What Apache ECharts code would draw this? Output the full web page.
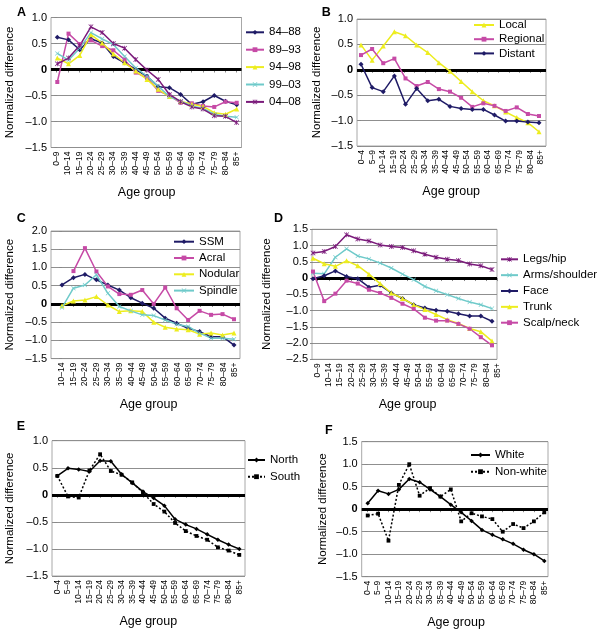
<!DOCTYPE html>
<html>
<head>
<meta charset="utf-8">
<script src="https://cdn.jsdelivr.net/npm/echarts@6.0.0/dist/echarts.min.js"></script>
<style>
  html, body { margin: 0; background: #fff; }
  #chart { width: 600px; height: 632px; }
</style>
</head>
<body>
<div id="chart"></div>
<script>
// age group labels
const ages9 = ['0–9','10–14','15–19','20–24','25–29','30–34','35–39','40–44','45–49','50–54','55–59','60–64','65–69','70–74','75–79','80–84','85+'];
const ages5 = ['0–4','5–9','10–14','15–19','20–24','25–29','30–34','35–39','40–44','45–49','50–54','55–59','60–64','65–69','70–74','75–79','80–84','85+'];
const ages10 = ['10–14','15–19','20–24','25–29','30–34','35–39','40–44','45–49','50–54','55–59','60–64','65–69','70–74','75–79','80–84','85+'];

// A: diagnosis period
const a8488 = [0.62,0.57,0.38,0.59,0.51,0.25,0.13,0.00,-0.13,-0.33,-0.35,-0.48,-0.67,-0.62,-0.50,-0.61,-0.68];
const a8993 = [-0.24,0.69,0.49,0.56,0.45,0.37,0.19,-0.06,-0.16,-0.41,-0.50,-0.64,-0.65,-0.70,-0.72,-0.62,-0.64];
const a9498 = [0.22,0.11,0.27,0.67,0.51,0.30,0.13,-0.03,-0.19,-0.38,-0.52,-0.61,-0.67,-0.71,-0.83,-0.86,-0.76];
const a9903 = [0.31,0.18,0.41,0.71,0.59,0.48,0.25,0.03,-0.13,-0.32,-0.52,-0.61,-0.70,-0.75,-0.86,-0.90,-0.92];
const a0408 = [0.11,0.22,0.46,0.82,0.71,0.50,0.41,0.19,-0.01,-0.19,-0.48,-0.62,-0.72,-0.76,-0.89,-0.90,-1.02];

// B: stage (17 points under 18 labels)
const bLocal = [0.49,0.19,0.47,0.75,0.67,0.49,0.34,0.14,-0.03,-0.23,-0.43,-0.61,-0.71,-0.83,-0.94,-1.04,-1.22];
const bRegional = [0.29,0.41,0.13,0.22,-0.17,-0.32,-0.24,-0.38,-0.43,-0.55,-0.73,-0.66,-0.71,-0.81,-0.74,-0.87,-0.91];
const bDistant = [0.11,-0.35,-0.43,-0.12,-0.68,-0.37,-0.61,-0.58,-0.72,-0.76,-0.78,-0.78,-0.89,-1.01,-1.01,-1.03,-1.04];

// C: histology
const cSSM = [0.52,0.72,0.81,0.66,0.52,0.38,0.17,0.02,-0.12,-0.39,-0.53,-0.67,-0.76,-0.90,-0.90,-1.13];
const cAcral = [null,0.90,1.53,0.89,0.48,0.27,0.25,0.38,0.00,0.45,-0.12,-0.44,-0.19,-0.30,-0.28,-0.42];
const cNodular = [-0.05,0.08,0.11,0.20,-0.03,-0.21,-0.19,-0.21,-0.50,-0.64,-0.69,-0.71,-0.83,-0.80,-0.85,-0.80];
const cSpindle = [-0.10,0.43,0.52,0.80,0.29,-0.07,-0.19,-0.30,-0.32,-0.44,-0.56,-0.62,-0.80,-0.94,-0.94,-0.97];

// D: body site
const dLegs = [0.77,0.82,0.97,1.33,1.20,1.14,1.02,0.97,0.94,0.84,0.73,0.64,0.58,0.54,0.43,0.38,0.26];
const dArms = [0.15,0.13,0.64,0.90,0.68,0.59,0.46,0.31,0.12,-0.05,-0.26,-0.39,-0.51,-0.63,-0.74,-0.82,-0.94];
const dFace = [-0.02,0.07,0.22,0.05,-0.02,-0.28,-0.22,-0.46,-0.63,-0.82,-0.92,-0.99,-1.02,-1.10,-1.17,-1.17,-1.33];
const dTrunk = [0.61,0.44,0.36,0.53,0.38,0.12,-0.17,-0.46,-0.63,-0.82,-0.97,-1.12,-1.28,-1.40,-1.55,-1.65,-1.94];
const dScalp = [0.20,-0.71,-0.48,-0.08,-0.17,-0.36,-0.46,-0.61,-0.79,-0.95,-1.22,-1.31,-1.31,-1.41,-1.56,-1.82,-2.07];

// E: region
const eNorth = [0.35,0.49,0.47,0.43,0.63,0.62,0.38,0.22,0.06,-0.06,-0.20,-0.45,-0.55,-0.63,-0.73,-0.83,-0.92,-1.00];
const eSouth = [0.35,-0.03,-0.05,0.45,0.75,0.44,0.37,0.23,0.04,-0.17,-0.31,-0.52,-0.67,-0.76,-0.83,-0.97,-1.03,-1.11];

// F: race
const fWhite = [0.13,0.41,0.34,0.44,0.67,0.60,0.44,0.28,0.10,-0.07,-0.26,-0.46,-0.57,-0.67,-0.77,-0.90,-1.00,-1.15];
const fNonwhite = [-0.14,-0.10,-0.70,0.54,1.00,0.30,0.47,0.28,0.44,-0.27,-0.09,-0.16,-0.22,-0.50,-0.33,-0.42,-0.27,-0.07];

const FONT = '"Liberation Sans", Arial, sans-serif';
const C = { navy: '#1f1b66', magenta: '#c64aa6', yellow: '#eded1f', cyan: '#6fcaca', purple: '#7b1b7b', black: '#000' };
const SYM = {
  diamond: ['diamond', 5], square: ['rect', 4], triangle: ['triangle', 5],
  cross: ['path://M1,0L5,4L9,0L10,1L6,5L10,9L9,10L5,6L1,10L0,9L4,5L0,1Z', 4.5],
  star: ['path://M1,0L5,4L9,0L10,1L6,5L10,9L9,10L5,6L1,10L0,9L4,5L0,1Z M4.3,0H5.7V10H4.3Z', 5],
  sdiamond: ['diamond', 4.5], ssquare: ['rect', 3.8]
};

// frame = plot box [left, top, width, height]; pts / labs = x of first and last point / label
const panels = [
  { tag: 'A', frame: [51, 17.5, 190.5, 130], pts: [57.3, 236.7], labs: [56.7, 236.7], y: [-1.5, 1], cats: ages9,
    letter: [17, 5.8], yNameX: 10, legend: { left: 245, top: 25.3, gap: 3.4, w: 18 },
    series: [['84–88', a8488, 'navy', 'diamond'], ['89–93', a8993, 'magenta', 'square'], ['94–98', a9498, 'yellow', 'triangle'],
             ['99–03', a9903, 'cyan', 'cross'], ['04–08', a0408, 'purple', 'star']] },
  { tag: 'B', frame: [357, 19, 189, 127], pts: [361, 539], labs: [361.7, 540.7], y: [-1.5, 1], cats: ages5,
    letter: [321.7, 5.8], yNameX: 316.7, legend: { left: 473, top: 18, gap: 0.2, w: 20 },
    series: [['Local', bLocal, 'yellow', 'triangle'], ['Regional', bRegional, 'magenta', 'square'], ['Distant', bDistant, 'navy', 'diamond']] },
  { tag: 'C', frame: [51, 231, 189, 127.6], pts: [62, 234], labs: [62, 235], y: [-1.5, 2], cats: ages10,
    letter: [16.7, 212.5], yNameX: 10, legend: { left: 173, top: 234.7, gap: 2.3, w: 20 },
    series: [['SSM', cSSM, 'navy', 'diamond'], ['Acral', cAcral, 'magenta', 'square'], ['Nodular', cNodular, 'yellow', 'triangle'], ['Spindle', cSpindle, 'cyan', 'cross']] },
  { tag: 'D', frame: [312, 229.3, 185, 130], pts: [313, 492], labs: [317.5, 497.5], y: [-2.5, 1.5], cats: ages9,
    letter: [274, 212.5], yNameX: 266.7, legend: { left: 500, top: 252.3, gap: 1.85, w: 17 },
    series: [['Legs/hip', dLegs, 'purple', 'star'], ['Arms/shoulder', dArms, 'cyan', 'cross'], ['Face', dFace, 'navy', 'diamond'],
             ['Trunk', dTrunk, 'yellow', 'triangle'], ['Scalp/neck', dScalp, 'magenta', 'square']] },
  { tag: 'E', frame: [52, 440.7, 193, 135.3], pts: [57.3, 239.3], labs: [57.3, 239.3], y: [-1.5, 1], cats: ages5,
    letter: [16.7, 420.5], yNameX: 10, legend: { left: 247, top: 453, gap: 2.7, w: 17 },
    series: [['North', eNorth, 'black', 'sdiamond'], ['South', eSouth, 'black', 'ssquare', [2, 2]]] },
  { tag: 'F', frame: [361.7, 441.7, 186.3, 135], pts: [367.7, 544.3], labs: [367.7, 544.3], y: [-1.5, 1.5], cats: ages5,
    letter: [325, 424.2], yNameX: 323, legend: { left: 470, top: 448, gap: 2.7, w: 19 },
    series: [['White', fWhite, 'black', 'sdiamond'], ['Non-white', fNonwhite, 'black', 'ssquare', [2, 2]]] }
];

const option = { animation: false, backgroundColor: '#fff', textStyle: { fontFamily: FONT },
  title: [], grid: [], xAxis: [], yAxis: [], legend: [], series: [] };

panels.forEach((p, k) => {
  const [L, T, W, H] = p.frame;
  const n = p.series[0][1].length;
  const s = (p.pts[1] - p.pts[0]) / (n - 1);
  const m = p.cats.length;
  const ls = (p.labs[1] - p.labs[0]) / (m - 1);
  const g = 2 * k;

  option.title.push({ text: p.tag, left: p.letter[0], top: p.letter[1], padding: 0,
    textStyle: { fontSize: 12.5, fontWeight: 'bold', color: '#000', fontFamily: FONT } });

  option.grid.push({ left: L, top: T, width: W, height: H, show: true, borderColor: '#a8a8a8', borderWidth: 1 });
  option.grid.push({ left: p.labs[0] - ls / 2, top: T, width: ls * m, height: H, show: false });

  // hidden scale for the points
  option.xAxis.push({ type: 'value', gridIndex: g, show: false,
    min: -(p.pts[0] - L) / s, max: (n - 1) + (L + W - p.pts[1]) / s });
  // visible category labels
  option.xAxis.push({ type: 'category', gridIndex: g + 1, data: p.cats, boundaryGap: true,
    axisLine: { show: false },
    axisTick: { show: true, alignWithLabel: true, length: 3, lineStyle: { color: '#888' } },
    axisLabel: { interval: 0, rotate: 90, fontSize: 8.5, margin: 4, color: '#000' },
    name: 'Age group', nameLocation: 'middle', nameGap: 39,
    nameTextStyle: { fontSize: 12.5, color: '#000' } });

  option.yAxis.push({ type: 'value', gridIndex: g, min: p.y[0], max: p.y[1], interval: 0.5,
    axisLine: { show: false },
    axisTick: { show: true, length: 3, lineStyle: { color: '#888' } },
    splitLine: { lineStyle: { color: '#8f8f8f', width: 1 } },
    axisLabel: { fontSize: 11, margin: 4, color: '#000',
      formatter: v => v === 0 ? '{b|0}' : v.toFixed(1).replace('-', '–'),
      rich: { b: { fontWeight: 'bold', fontSize: 11 } } },
    name: 'Normalized difference', nameLocation: 'middle', nameRotate: 90, nameGap: L - p.yNameX - 6,
    nameTextStyle: { fontSize: 11.5, color: '#000' } });
  option.yAxis.push({ type: 'value', gridIndex: g + 1, show: false, min: p.y[0], max: p.y[1] });

  option.legend.push({ data: p.series.map(d => d[0]), orient: 'vertical', left: p.legend.left, top: p.legend.top,
    itemWidth: p.legend.w, itemHeight: 6, itemGap: p.legend.gap, padding: 0, selectedMode: false,
    textStyle: { fontSize: 11.5, color: '#000', lineHeight: 14 } });

  p.series.forEach((d, i) => {
    const [name, vals, col, sym, dash] = d;
    const data = vals.map((v, j) => [j, v]).filter(pt => pt[1] !== null);
    const ser = { type: 'line', name, xAxisIndex: g, yAxisIndex: g, data,
      symbol: SYM[sym][0], symbolSize: SYM[sym][1], showSymbol: true,
      lineStyle: { color: C[col], width: 1.5, type: dash || 'solid' },
      itemStyle: { color: C[col] }, emphasis: { disabled: true }, z: 3 };
    if (i === 0) {
      ser.markLine = { silent: true, symbol: 'none', label: { show: false }, z: 2,
        lineStyle: { color: '#000', width: 3, type: 'solid' }, data: [{ yAxis: 0 }] };
    }
    option.series.push(ser);
  });
});

const chart = echarts.init(document.getElementById('chart'), null, { renderer: 'canvas' });
chart.setOption(option);
</script>
</body>
</html>
